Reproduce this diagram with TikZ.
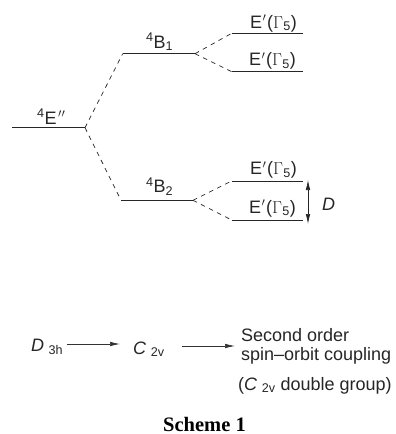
\documentclass[tikz,border=0pt]{standalone}
\usepackage{fontspec}
\setmainfont{Liberation Sans}
\newfontfamily\serifbold{Liberation Serif}
\usetikzlibrary{arrows.meta}
\tikzset{
 x=1pt,y=-1pt,
 level/.style={line width=0.8pt,draw=black!85},
 split/.style={line width=0.7pt,draw=black!85,dash pattern=on 4.5pt off 4.5pt},
 lab/.style={inner sep=0pt,font=\fontsize{18}{20}\selectfont,text=black!85},
 flow/.style={line width=0.7pt,draw=black!80,-{Latex[length=10pt,width=4.5pt]}},
 dbl/.style={line width=0.7pt,draw=black!85,{Latex[length=10pt,width=4.5pt]}-{Latex[length=10pt,width=4.5pt]}},
}
\newcommand{\Ep}{E\kern0.5pt$'$\kern0.5pt(\fontspec{Liberation Serif}$\Gamma$\fontspec{Liberation Sans}\kern0.5pt\textsubscript{5})}
\begin{document}
\begin{tikzpicture}
\useasboundingbox (0,0) rectangle (396,434);
% level end points
\coordinate (E0) at (12,127.7); \coordinate (E1) at (85,127.7);
\coordinate (B1a) at (122.7,53.7); \coordinate (B1b) at (195,53.7);
\coordinate (B2a) at (121,200.3); \coordinate (B2b) at (193,200.3);
\coordinate (L1a) at (231.7,33.3); \coordinate (L1b) at (303,33.3);
\coordinate (L2a) at (231.7,71.7); \coordinate (L2b) at (303,71.7);
\coordinate (L3a) at (231.7,181); \coordinate (L3b) at (303,181);
\coordinate (L4a) at (231.7,220); \coordinate (L4b) at (303,220);
\draw[level] (E0)--(E1);
\draw[level] (B1a)--(B1b);
\draw[level] (B2a)--(B2b);
\draw[level] (L1a)--(L1b);
\draw[level] (L2a)--(L2b);
\draw[level] (L3a)--(L3b);
\draw[level] (L4a)--(L4b);
\draw[split] (E1)--(B1a);
\draw[split] (E1)--(B2a);
\draw[split] (B1b)--(L1a);
\draw[split] (B1b)--(L2a);
\draw[split] (B2b)--(L3a);
\draw[split] (B2b)--(L4a);
\coordinate (Dt) at (308,180); \coordinate (Db) at (308,224);
\draw[dbl] (Dt)--(Db);
% labels
\node[lab,anchor=base west] (tE) at (37,124) {\textsuperscript{4}E\kern1.5pt$''$};
\node[lab,anchor=base west] (tB1) at (146,48) {\textsuperscript{4}B\textsubscript{1}};
\node[lab,anchor=base west] (tB2) at (146,192.7) {\textsuperscript{4}B\textsubscript{2}};
\node[lab,anchor=base west] (t1) at (250,28) {\Ep};
\node[lab,anchor=base west] (t2) at (249,65.5) {\Ep};
\node[lab,anchor=base west] (t3) at (250,174.3) {\Ep};
\node[lab,anchor=base west] (t4) at (249,213) {\Ep};
\node[lab,anchor=base west] (tD) at (322,210) {\textit{D}};
\node[lab,anchor=base west] (d3h) at (31,351) {\textit{D}\kern4.5pt\textsubscript{3h}};
\node[lab,anchor=base west] (c2v) at (133,354) {\textit{C}\kern4.5pt\textsubscript{2v}};
\node[lab,anchor=base west] (so) at (241,341) {Second order};
\node[lab,anchor=base west] (so2) at (241,360) {spin--orbit coupling};
\node[lab,anchor=base west] (dg) at (238,390) {(\textit{C}\kern4.5pt\textsubscript{2v} double group)};
\node[inner sep=0pt,anchor=base,font=\serifbold\bfseries\fontsize{20.5}{22}\selectfont] (sch) at (204.5,431) {Scheme 1};
\coordinate (a1) at (67,344); \coordinate (a2) at (120,344);
\coordinate (a3) at (182,346); \coordinate (a4) at (235,346);
\draw[flow] (a1)--(a2);
\draw[flow] (a3)--(a4);
\end{tikzpicture}
\end{document}
